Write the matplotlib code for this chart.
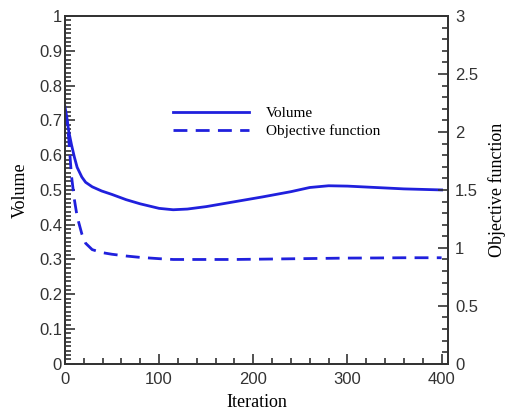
import matplotlib.pyplot as plt
from matplotlib.ticker import MultipleLocator, AutoMinorLocator, FormatStrFormatter

# iteration history of the optimisation run
iterations = [0, 2, 4, 7, 10, 13, 18, 22, 29, 39, 50, 65, 80, 100, 115, 130,
              150, 180, 210, 240, 260, 280, 300, 330, 360, 400]
volume = [0.74, 0.71, 0.67, 0.63, 0.595, 0.565, 0.537, 0.522, 0.509, 0.497,
          0.487, 0.472, 0.46, 0.447, 0.443, 0.445, 0.452, 0.466, 0.48, 0.495,
          0.507, 0.512, 0.511, 0.507, 0.503, 0.5]
objective = [2.18, 2.1, 1.95, 1.62, 1.42, 1.27, 1.12, 1.04, 0.985, 0.96,
             0.945, 0.93, 0.918, 0.907, 0.9, 0.9, 0.9, 0.9, 0.903, 0.906,
             0.908, 0.91, 0.912, 0.913, 0.915, 0.915]

blue = '#2020dd'
serif = ['Liberation Serif', 'DejaVu Serif']
sans = ['Liberation Sans', 'DejaVu Sans']

fig = plt.figure(figsize=(5.07, 4.12), dpi=100)
ax = fig.add_axes([0.128, 0.117, 0.756, 0.844])
ax2 = ax.twinx()

line_v, = ax.plot(iterations, volume, color=blue, lw=2.0, label='Volume')
line_o, = ax2.plot(iterations, objective, color=blue, lw=2.0, ls=(0, (5, 3)),
                   label='Objective function')

ax.set_xlim(0, 407)
ax.set_ylim(0, 1)
ax2.set_ylim(0, 3)

ax.xaxis.set_major_locator(MultipleLocator(100))
ax.xaxis.set_minor_locator(AutoMinorLocator(5))
ax.yaxis.set_major_locator(MultipleLocator(0.1))
ax.yaxis.set_minor_locator(AutoMinorLocator(8))
ax.yaxis.set_major_formatter(FormatStrFormatter('%g'))
ax2.yaxis.set_major_locator(MultipleLocator(0.5))
ax2.yaxis.set_minor_locator(AutoMinorLocator(5))
ax2.yaxis.set_major_formatter(FormatStrFormatter('%g'))

for a in (ax, ax2):
    a.tick_params(which='both', direction='in', color='#333333', width=1.2)
    a.tick_params(which='major', length=7, labelsize=12, pad=2)
    a.tick_params(which='minor', length=4)
    for lab in a.get_xticklabels() + a.get_yticklabels():
        lab.set_family(sans)
        lab.set_color('#333333')
    for s in a.spines.values():
        s.set_linewidth(1.3)
        s.set_color('#333333')
ax.tick_params(axis='x', pad=6)
ax2.tick_params(axis='y', pad=5)

ax.set_xlabel('Iteration', family=serif, fontsize=13, labelpad=5)
ax.set_ylabel('Volume', family=serif, fontsize=13, labelpad=7)
ax2.set_ylabel('Objective function', family=serif, fontsize=13, labelpad=7)

ax.legend([line_v, line_o], ['Volume', 'Objective function'],
          loc='upper left', bbox_to_anchor=(0.245, 0.78), frameon=False,
          prop={'family': serif, 'size': 11}, handlelength=5.0,
          handletextpad=1.1, labelspacing=0.3)

fig.savefig('out.png', dpi=100)
